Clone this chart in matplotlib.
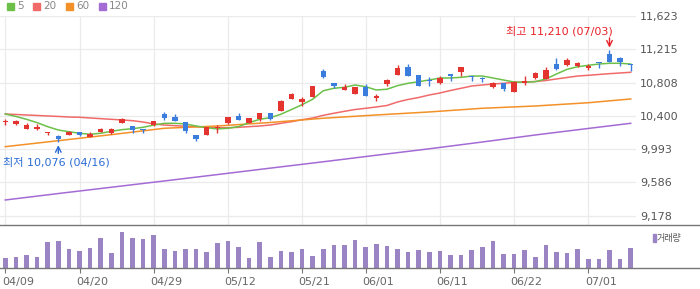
"""Daily candle chart with moving averages and a volume strip (04/09 - 07/05)."""
import matplotlib
matplotlib.use("Agg")
import matplotlib.pyplot as plt
from matplotlib.patches import Rectangle
from matplotlib.transforms import ScaledTranslation

plt.rcParams['font.family'] = ['DejaVu Sans', 'Noto Sans CJK KR']

# --- data ----------------------------------------------------------------
opens = [10320, 10300, 10245, 10240, 10185, 10155, 10165, 10200, 10145, 10205,
         10195, 10315, 10275, 10240, 10290, 10425, 10385, 10320, 10165, 10170,
         10255, 10310, 10393, 10317, 10362, 10435, 10464, 10610, 10570, 10635,
         10953, 10799, 10717, 10672, 10754, 10619, 10794, 10904, 10995, 10901,
         10833, 10806, 10913, 10937, 10874, 10854, 10757, 10799, 10696, 10803,
         10868, 10852, 11032, 11023, 11007, 10983, 11046, 11161, 11105, 11029]
highs = [10360, 10350, 10310, 10295, 10200, 10160, 10215, 10200, 10205, 10250,
         10250, 10375, 10275, 10240, 10340, 10450, 10425, 10325, 10165, 10262,
         10285, 10385, 10435, 10376, 10437, 10437, 10595, 10680, 10628, 10770,
         10974, 10800, 10790, 10752, 10790, 10668, 10855, 11023, 11032, 10903,
         10876, 10888, 10915, 11001, 10892, 10880, 10811, 10801, 10821, 10888,
         10941, 10999, 11105, 11109, 11060, 11032, 11052, 11210, 11121, 11035]
lows = [10290, 10290, 10245, 10225, 10170, 10076, 10160, 10150, 10145, 10200,
        10180, 10315, 10195, 10195, 10270, 10355, 10340, 10195, 10090, 10168,
        10195, 10300, 10344, 10315, 10341, 10353, 10462, 10608, 10525, 10633,
        10868, 10738, 10715, 10670, 10645, 10586, 10766, 10902, 10890, 10764,
        10770, 10794, 10831, 10888, 10827, 10811, 10745, 10708, 10694, 10775,
        10848, 10850, 10958, 11007, 10995, 10958, 10990, 11061, 11011, 10946]
closes = [10330, 10340, 10290, 10265, 10190, 10115, 10205, 10170, 10175, 10240,
          10240, 10360, 10225, 10228, 10340, 10380, 10340, 10210, 10115, 10260,
          10260, 10383, 10344, 10374, 10435, 10366, 10582, 10668, 10610, 10766,
          10880, 10766, 10754, 10750, 10647, 10644, 10839, 10983, 10892, 10766,
          10829, 10868, 10888, 10999, 10870, 10850, 10799, 10726, 10819, 10831,
          10921, 10958, 10970, 11088, 11048, 11011, 11042, 11063, 11060, 11025]
volume = [31, 34, 40, 34, 79, 82, 58, 52, 61, 91, 46, 109, 91, 88, 100,
          58, 52, 58, 58, 49, 76, 82, 64, 31, 79, 34, 52, 49, 58, 37,
          58, 70, 70, 85, 64, 73, 67, 58, 49, 55, 49, 52, 40, 40, 55,
          64, 82, 43, 43, 55, 34, 70, 49, 46, 58, 28, 28, 55, 28, 61]

ma5 = [10423, 10393, 10358, 10317, 10268, 10227, 10206, 10187, 10175, 10187,
       10211, 10231, 10243, 10260, 10288, 10309, 10309, 10301, 10276, 10255,
       10240, 10248, 10268, 10317, 10358, 10378, 10420, 10478, 10537, 10604,
       10708, 10738, 10750, 10778, 10757, 10717, 10726, 10770, 10799, 10819,
       10839, 10864, 10864, 10872, 10888, 10888, 10864, 10839, 10815, 10811,
       10819, 10852, 10913, 10970, 11002, 11019, 11035, 11044, 11044, 11035]
ma20 = [10423, 10417, 10411, 10405, 10399, 10393, 10386, 10383, 10374, 10366,
        10358, 10350, 10341, 10325, 10301, 10288, 10280, 10273, 10268, 10260,
        10255, 10255, 10260, 10268, 10276, 10288, 10309, 10329, 10353, 10374,
        10407, 10432, 10456, 10478, 10493, 10509, 10527, 10570, 10601, 10625,
        10656, 10680, 10711, 10738, 10766, 10778, 10790, 10799, 10811, 10815,
        10821, 10833, 10852, 10870, 10888, 10897, 10907, 10917, 10925, 10934]
# the long averages are near straight, read every 5th session
long_idx = [0, 5, 10, 15, 20, 25, 30, 35, 40, 45, 50, 55, 59]
ma60 = [10023, 10096, 10170, 10248, 10276, 10319, 10371, 10411, 10448,
        10493, 10521, 10561, 10607]
ma120 = [9370, 9449, 9526, 9603, 9681, 9760, 9838, 9918, 9997,
         10080, 10166, 10246, 10309]

date_pos = [0, 7, 14, 21, 28, 34, 41, 48, 55]
date_lbl = ["04/09", "04/20", "04/29", "05/12", "05/21",
            "06/01", "06/11", "06/22", "07/01"]
price_ticks = [9178, 9586, 9993, 10400, 10808, 11215, 11623]
hi_date, lo_date = "07/03", "04/16"

UP, DOWN = "#e3342f", "#3b7ddd"
MA_COLORS = {"5": "#6cc04a", "20": "#f06a6a", "60": "#f39128", "120": "#a56bd5"}

# --- layout (pixel geometry of a 700x289 canvas) -------------------------
W, H = 700, 289
fig = plt.figure(figsize=(W / 100, H / 100), dpi=100)
ax = fig.add_axes([0, 1 - 225.3 / H, 636 / W, (225.3 - 16) / H])
axv = fig.add_axes([0, 1 - 268.3 / H, 1, 43 / H])

n = len(closes)
xs = list(range(n))

# --- price panel ---------------------------------------------------------
ax.plot(xs, ma20, color=MA_COLORS["20"], lw=1.1, zorder=2)
ax.plot(long_idx, ma60, color=MA_COLORS["60"], lw=1.1, zorder=2)
ax.plot(long_idx, ma120, color=MA_COLORS["120"], lw=1.1, zorder=2)
ax.plot(xs, ma5, color=MA_COLORS["5"], lw=1.1, zorder=2)

for i in xs:
    o, h, l, c = opens[i], highs[i], lows[i], closes[i]
    col = UP if c >= o else DOWN
    ax.vlines(i, l, h, color=col, lw=1, zorder=3)
    body = max(abs(c - o), 14)
    ax.bar(i, body, bottom=min(o, c), width=0.5, color=col, lw=0, zorder=4)

ax.set_xlim(-0.5, 59.5)
ax.set_ylim(9060, 11623)
ax.set_yticks(price_ticks)
ax.set_yticklabels([f"{v:,}" for v in price_ticks])
ax.yaxis.tick_right()
ax.tick_params(axis="y", length=0, pad=3, labelsize=8, labelcolor="#555555")
ax.set_xticks(date_pos)
ax.tick_params(axis="x", length=0, labelbottom=False)
ax.grid(color="#ebebeb", lw=0.9)
ax.set_axisbelow(True)
for s in ax.spines.values():
    s.set_visible(False)

# high / low markers
hi_i = highs.index(max(highs))
lo_i = lows.index(min(lows))
ax.annotate("", xy=(hi_i, highs[hi_i]), xytext=(0, 8.5), textcoords="offset points",
            xycoords="data", annotation_clip=False,
            arrowprops=dict(arrowstyle="->", color="#e8232a", lw=1,
                            shrinkA=0, shrinkB=1.5))
ax.annotate(f"최고 {max(highs):,} ({hi_date})", xy=(hi_i, highs[hi_i]),
            xytext=(2.2, 13.5), textcoords="offset points",
            ha="right", va="center", fontsize=8, color="#e8232a")
ax.annotate("", xy=(lo_i, lows[lo_i]), xytext=(0, -8), textcoords="offset points",
            arrowprops=dict(arrowstyle="->", color="#2b6cd4", lw=1,
                            shrinkA=0, shrinkB=2))
ax.annotate(f"최저 {min(lows):,} ({lo_date})", xy=(lo_i, lows[lo_i]),
            xytext=(-40, -14.1), textcoords="offset points",
            ha="left", va="center", fontsize=8, color="#2b6cd4")

# --- volume panel --------------------------------------------------------
axv.bar(xs, volume, width=0.45, color="#9a84c4", lw=0)
axv.set_xlim(-0.5, -0.5 + W / 10.6)
axv.set_ylim(0, 129)
axv.set_yticks([])
axv.set_xticks(date_pos)
axv.set_xticklabels(date_lbl, ha="left")
axv.tick_params(axis="x", length=3.5, width=0.8, color="#777777", pad=2.5,
                labelsize=8, labelcolor="#666666")
shift = ScaledTranslation(-3.5 / 100, 0, fig.dpi_scale_trans)
for lab in axv.get_xticklabels():
    lab.set_transform(lab.get_transform() + shift)
for side in ("left", "right"):
    axv.spines[side].set_visible(False)
for side in ("top", "bottom"):
    axv.spines[side].set_color("#777777")
    axv.spines[side].set_linewidth(1)

# volume legend
fig.patches.append(Rectangle((652.5 / W, 1 - 241.7 / H), 3 / W, 7.7 / H,
                             transform=fig.transFigure, color="#9a84c4"))
fig.text(657 / W, 1 - 238 / H, "거래량", fontsize=6.5, color="#555555",
         va="center", ha="left")

# moving average legend along the top
legend_x = {"5": 7, "20": 33, "60": 66, "120": 99}
for key, x0 in legend_x.items():
    fig.patches.append(Rectangle((x0 / W, 1 - 9.5 / H), 6.5 / W, 6.5 / H,
                                 transform=fig.transFigure, color=MA_COLORS[key]))
    fig.text((x0 + 10) / W, 1 - 6.3 / H, key, fontsize=7.5, color="#888888",
             va="center", ha="left")

fig.savefig("out.png", dpi=100)
